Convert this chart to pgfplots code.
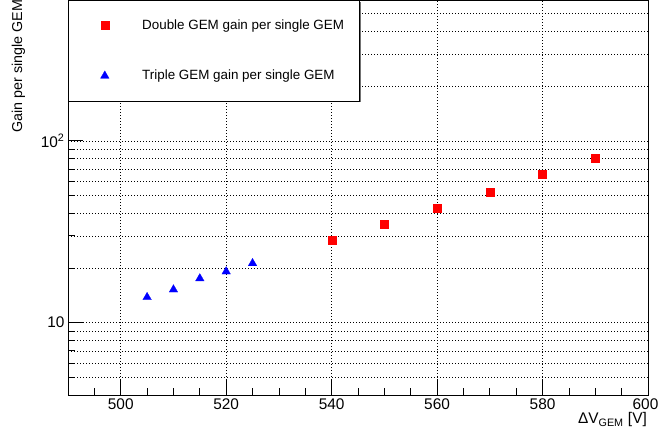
\documentclass[border=0pt]{standalone}
\usepackage{pgfplots}
\pgfplotsset{compat=1.18}
\usepackage{fontspec}
\setmainfont{Liberation Sans}
\usetikzlibrary{shadows}

\newcommand\tickfont{\fontsize{15.4bp}{18bp}\selectfont}
\newcommand\ylabfont{\fontsize{14.3bp}{17bp}\selectfont}
\newcommand\legfont{\fontsize{13.4bp}{16bp}\selectfont}

\begin{document}
\begin{tikzpicture}
\useasboundingbox (0,0) rectangle (659bp,440bp);
\begin{axis}[
  at={(68bp,45bp)}, anchor=south west,
  scale only axis, width=580bp, height=395bp,
  xmin=490, xmax=600,
  ymode=log, ymin=4, ymax=595,
  xtick={500,520,540,560,580,600},
  xticklabels={500,520,540,560,580,\hspace*{-5bp}600},
  minor xtick={495,505,510,515,525,530,535,545,550,555,565,570,575,585,590,595},
  ytick={10,100},
  yticklabels={10,10\textsuperscript{2}},
  minor ytick={5,6,7,8,9,20,30,40,50,60,70,80,90,200,300,400,500},
  xtick pos=bottom, ytick pos=left,
  tick align=inside,
  major tick length=15bp, minor tick length=7.5bp,
  tick style={black, line width=0.8bp},
  axis line style={black, line width=0.8bp},
  ticklabel style={font=\tickfont},
  xmajorgrids, ymajorgrids, yminorgrids,
  major grid style={black, line width=0.6bp, dash pattern=on 0.9bp off 2.1bp},
  minor grid style={black, line width=0.6bp, dash pattern=on 0.9bp off 2.1bp},
  xlabel={ΔV\textsubscript{GEM} [V]},
  xlabel style={font=\tickfont, at={(axis description cs:1,0)}, anchor=base east,
    inner sep=0pt, yshift=-29bp, xshift=-1bp},
  ylabel={Gain per single GEM},
  ylabel style={font=\ylabfont, at={(axis description cs:-0.0853,0.6646)},
    anchor=west, inner sep=0pt},
  legend cell align=left,
  legend style={at={(0,1)}, anchor=north west, draw=black, line width=0.8bp,
    fill=white, inner sep=0pt, row sep=0pt, column sep=0pt,
    nodes={inner xsep=15bp, inner ysep=0pt, font=\legfont},
    drop shadow={shadow xshift=1.5bp, shadow yshift=-1.5bp, fill=black!55, opacity=1}},
  legend image code/.code={%
    \path (-36bp,-24.75bp) (22bp,24.75bp);
    \draw[#1] plot coordinates {(0bp,0bp)};},
]
% double GEM stack, gain normalised to one foil
\addplot[only marks, mark=square*, mark size=4bp, color=red,
  mark options={fill=red, draw=red, line width=0.2bp}]
  coordinates {(540,28.6) (550,34.9) (560,42.5) (570,52.0) (580,65.3) (590,80.7)};
\addlegendentry{Double GEM gain per single GEM}
% triple GEM stack, gain normalised to one foil
\addplot[only marks, mark=triangle*, mark size=5bp, color=blue,
  mark options={fill=blue, draw=blue, line width=0.2bp}]
  coordinates {(505,13.8) (510,15.2) (515,17.5) (520,19.1) (525,21.2)};
\addlegendentry{Triple GEM gain per single GEM}
\end{axis}
\end{tikzpicture}
\end{document}
